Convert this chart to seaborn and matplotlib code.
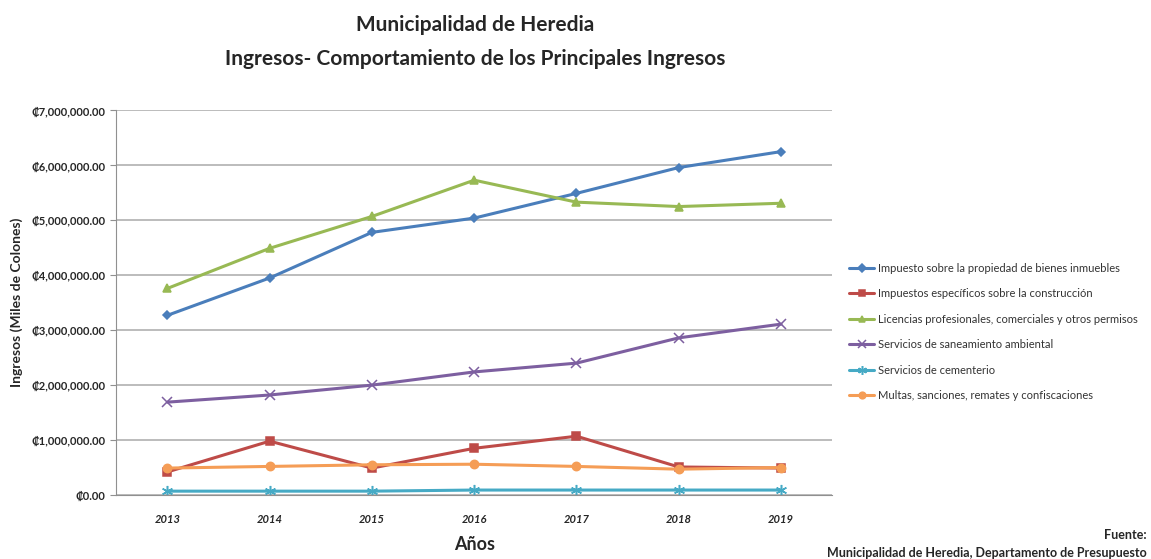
import numpy as np
import matplotlib.pyplot as plt
import pandas as pd
import seaborn as sns
from matplotlib.ticker import FuncFormatter

anios = ['2013', '2014', '2015', '2016', '2017', '2018', '2019']

series = [
    'Impuesto sobre la propiedad de bienes inmuebles',
    'Impuestos específicos sobre la construcción',
    'Licencias profesionales, comerciales y otros permisos',
    'Servicios de saneamiento ambiental',
    'Servicios de cementerio',
    'Multas, sanciones, remates y confiscaciones',
]

# valores en miles de colones
bienes_inmuebles = [3270000, 3950000, 4780000, 5040000, 5490000, 5960000, 6250000]
construccion = [420000, 980000, 490000, 850000, 1070000, 510000, 490000]
licencias = [3760000, 4490000, 5070000, 5730000, 5330000, 5250000, 5310000]
saneamiento = [1690000, 1820000, 2000000, 2240000, 2400000, 2860000, 3110000]
cementerio = [70000, 70000, 70000, 90000, 90000, 90000, 90000]
multas = [490000, 520000, 550000, 560000, 520000, 470000, 500000]

valores = [bienes_inmuebles, construccion, licencias, saneamiento, cementerio, multas]
colores = ['#4A7EBB', '#BE4B48', '#98B954', '#7D5FA0', '#46AAC5', '#F59D56']
marcadores = ['D', 's', '^', 'x', (6, 2, 0), 'o']
tamanos = [4.5, 6, 6, 7, 8, 6]

df = pd.DataFrame({'Año': anios * len(series)})
df['Serie'] = np.repeat(series, len(anios))
df['Ingresos'] = np.concatenate(valores)

sns.set_style('white')
plt.rcParams['font.family'] = ['Lato', 'DejaVu Sans']

fig = plt.figure(figsize=(11.51, 5.59), dpi=100)
ax = fig.add_axes([0.101, 0.1145, 0.622, 0.688])

for nombre, color, marca, tam in zip(series, colores, marcadores, tamanos):
    sub = df[df['Serie'] == nombre]
    sns.lineplot(data=sub, x='Año', y='Ingresos', ax=ax, color=color,
                 marker=marca, markersize=tam, linewidth=2.2,
                 markeredgecolor=color, markeredgewidth=1.1, label=nombre)

ax.set_xlim(-0.5, 6.5)
ax.set_ylim(0, 7000000)
ax.set_yticks(np.arange(0, 7000001, 1000000))
ax.yaxis.set_major_formatter(FuncFormatter(lambda v, p: '₡{:,.2f}'.format(v)))
ax.grid(axis='y', color='#b0b0b0', linewidth=1.2)
for s in ['top', 'right']:
    ax.spines[s].set_visible(False)
ax.spines['left'].set_color('#909090')
ax.spines['bottom'].set_color('#909090')
ax.tick_params(axis='y', left=True, length=4, color='#909090', labelsize=8, pad=4)
ax.tick_params(axis='x', bottom=False, labelsize=8, pad=10)
for t in ax.get_yticklabels():
    t.set_fontweight('bold')
for t in ax.get_xticklabels():
    t.set_fontweight('bold')
    t.set_fontstyle('italic')

ax.set_xlabel('Años', fontsize=13, fontweight='bold', labelpad=8)
ax.set_ylabel('Ingresos (Miles de Colones)', fontsize=10, fontweight='bold', labelpad=6)

ley = ax.legend(loc='center left', bbox_to_anchor=(1.01, 0.424), frameon=False,
                fontsize=8, handlelength=2.2, labelspacing=1.3, handletextpad=0.4,
                markerscale=0.8)
for t in ley.get_texts():
    t.set_color('#333333')

fig.text(0.413, 0.955, 'Municipalidad de Heredia', ha='center', va='center',
         fontsize=15, fontweight='bold')
fig.text(0.413, 0.895, 'Ingresos- Comportamiento de los Principales Ingresos', ha='center',
         va='center', fontsize=15, fontweight='bold')
fig.text(0.996, 0.043, 'Fuente:', ha='right', va='center', fontsize=9, fontweight='bold')
fig.text(0.996, 0.01, 'Municipalidad de Heredia, Departamento de Presupuesto', ha='right',
         va='center', fontsize=9, fontweight='bold')

fig.savefig('out.png', dpi=100)
